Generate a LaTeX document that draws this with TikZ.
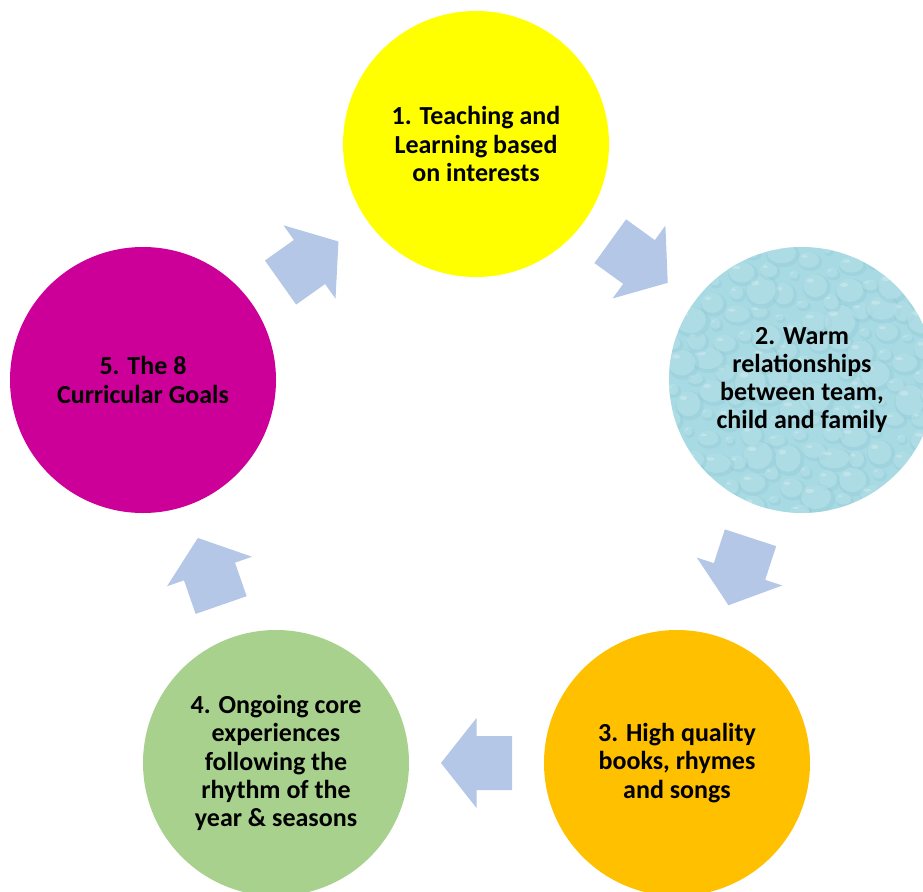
\documentclass[tikz,border=0pt]{standalone}
\usepackage{fontspec}
\setmainfont{Carlito}
\definecolor{cyellow}{RGB}{255,255,0}
\definecolor{corange}{RGB}{255,192,0}
\definecolor{cgreen}{RGB}{169,209,142}
\definecolor{cmagenta}{RGB}{204,0,153}
\definecolor{cwater}{RGB}{168,218,227}
\definecolor{dropdark}{RGB}{128,190,204}
\definecolor{droplight}{RGB}{192,232,238}
\definecolor{arrowblue}{RGB}{180,199,231}
\tikzset{
  circ/.style={circle, minimum size=266pt, inner sep=0pt, draw=none,
    align=center, text=black, font=\fontsize{26}{28.3}\selectfont\bfseries},
  blockarrow/.pic={
    \fill[arrowblue] (-35.5,-27) -- (0,-27) -- (0,-45) -- (35.5,0)
      -- (0,45) -- (0,27) -- (-35.5,27) -- cycle;
  },
  water/.style={fill=cwater, path picture={
    \foreach \k in {1,...,120}{
      \pgfmathsetmacro{\pa}{2*mod(\k*68.754,180)}
      \pgfmathsetmacro{\pr}{138*sqrt(\k/120)}
      \pgfmathsetmacro{\px}{\pr*cos(\pa)}
      \pgfmathsetmacro{\py}{\pr*sin(\pa)}
      \pgfmathsetmacro{\rx}{5+mod(\k*37,14)}
      \pgfmathsetmacro{\ry}{\rx*(0.65+0.05*mod(\k*11,9))}
      \fill[dropdark, opacity=0.22]
        ([shift={(\px+1.5,\py+2)}]path picture bounding box.center)
        ellipse [x radius=\rx, y radius=\ry];
      \fill[droplight, opacity=0.45]
        ([shift={(\px,\py)}]path picture bounding box.center)
        ellipse [x radius=0.85*\rx, y radius=0.85*\ry];
      \fill[white, opacity=0.25]
        ([shift={(\px-0.35*\rx,\py-0.4*\ry)}]path picture bounding box.center)
        ellipse [x radius=0.25*\rx, y radius=0.15*\ry];
    }
  }},
}
\begin{document}
\begin{tikzpicture}[x=1pt,y=-1pt]
\useasboundingbox (0,0) rectangle (923,891);
\clip (0,0) rectangle (923,891);

\node[circ, fill=cyellow] (c1) at (476,144) {1. Teaching and\\Learning based\\on interests};
\node[circ, water] (c2) at (802,380) {2. Warm\\relationships\\between team,\\child and family};
\node[circ, fill=corange] (c3) at (677,763) {3. High quality\\books, rhymes\\and songs};
\node[circ, fill=cgreen] (c4) at (276,763) {4. Ongoing core\\experiences\\following the\\rhythm of the\\year \& seasons};
\node[circ, fill=cmagenta] (c5) at (143,380) {5. The 8\\Curricular Goals};

\path (c1) -- pic[pos=0.5, sloped, allow upside down]{blockarrow} (c2);
\path (c2) -- pic[pos=0.5, sloped, allow upside down]{blockarrow} (c3);
\path (c3) -- pic[pos=0.5, sloped, allow upside down]{blockarrow} (c4);
\path (c4) -- pic[pos=0.5, sloped, allow upside down]{blockarrow} (c5);
\path (c5) -- pic[pos=0.5, sloped, allow upside down]{blockarrow} (c1);
\end{tikzpicture}
\end{document}
